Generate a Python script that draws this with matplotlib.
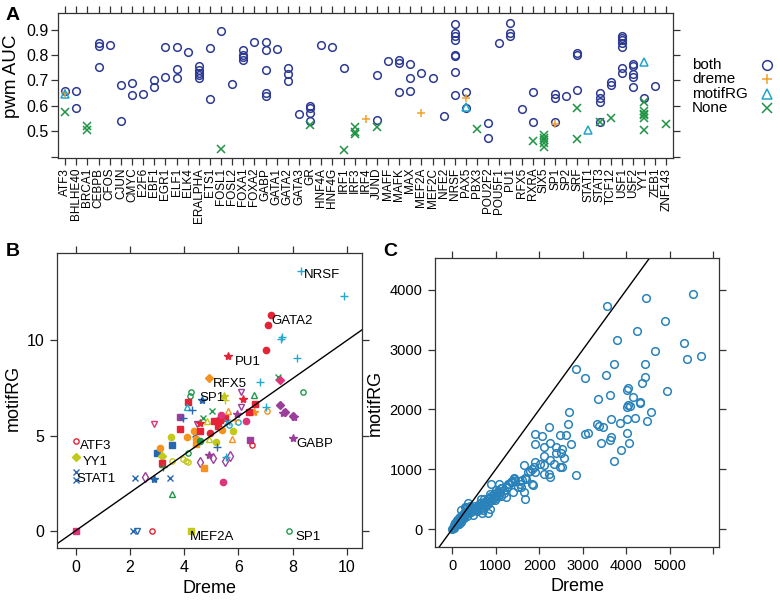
import numpy as np
import matplotlib.pyplot as plt

plt.rcParams['font.family'] = ['Liberation Sans', 'DejaVu Sans']

# ---------------- panel A data ----------------
tfs = ['ATF3', 'BHLHE40', 'BRCA1', 'CEBPB', 'CFOS', 'CJUN', 'CMYC', 'E2F6', 'EBF1', 'EGR1',
       'ELF1', 'ELK4', 'ERALPHA', 'ETS1', 'FOSL1', 'FOSL2', 'FOXA1', 'FOXA2', 'GABP', 'GATA1',
       'GATA2', 'GATA3', 'GR', 'HNF4A', 'HNF4G', 'IRF1', 'IRF3', 'IRF4', 'JUND', 'MAFF',
       'MAFK', 'MAX', 'MEF2A', 'MEF2C', 'NFE2', 'NRSF', 'PAX5', 'PBX3', 'POU2F2', 'POU5F1',
       'PU1', 'RFX5', 'RXRA', 'SIX5', 'SP1', 'SP2', 'SRF', 'STAT1', 'STAT3', 'TCF12',
       'USF1', 'USF2', 'YY1', 'ZEB1', 'ZNF143']

both = {
    'ATF3': [0.657], 'BHLHE40': [0.657, 0.593], 'CEBPB': [0.846, 0.837, 0.752],
    'CFOS': [0.840], 'CJUN': [0.68, 0.54], 'CMYC': [0.69, 0.641], 'E2F6': [0.645],
    'EBF1': [0.70, 0.676], 'EGR1': [0.831, 0.714], 'ELF1': [0.831, 0.744, 0.709],
    'ELK4': [0.811], 'ERALPHA': [0.755, 0.739, 0.729, 0.72, 0.711], 'ETS1': [0.829, 0.628],
    'FOSL1': [0.896], 'FOSL2': [0.687], 'FOXA1': [0.82, 0.80, 0.791, 0.782],
    'FOXA2': [0.852], 'GABP': [0.852, 0.819, 0.739, 0.652, 0.64], 'GATA1': [0.825],
    'GATA2': [0.75, 0.727, 0.699], 'GATA3': [0.567], 'GR': [0.598, 0.59, 0.573, 0.542],
    'HNF4A': [0.838], 'HNF4G': [0.831], 'IRF1': [0.748], 'JUND': [0.721, 0.543],
    'MAFF': [0.777], 'MAFK': [0.782, 0.768, 0.653], 'MAX': [0.764, 0.709, 0.658],
    'MEF2A': [0.73], 'MEF2C': [0.709], 'NFE2': [0.561],
    'NRSF': [0.92, 0.885, 0.875, 0.857, 0.80, 0.795, 0.733, 0.641],
    'PAX5': [0.656, 0.59], 'POU2F2': [0.533, 0.475], 'POU5F1': [0.849],
    'PU1': [0.926, 0.887, 0.876], 'RFX5': [0.589], 'RXRA': [0.653, 0.536],
    'SP1': [0.648, 0.631, 0.535], 'SP2': [0.638], 'SRF': [0.807, 0.798, 0.661],
    'STAT3': [0.65, 0.632, 0.614, 0.538], 'TCF12': [0.693, 0.683],
    'USF1': [0.874, 0.866, 0.858, 0.847, 0.831, 0.748, 0.73],
    'USF2': [0.763, 0.758, 0.724, 0.713, 0.676], 'YY1': [0.632], 'ZEB1': [0.679],
}
dreme = {'ATF3': [0.652], 'IRF4': [0.55], 'MEF2A': [0.573], 'PAX5': [0.632], 'SP1': [0.527]}
motifrg = {'ATF3': [0.648], 'PAX5': [0.595], 'STAT1': [0.504], 'YY1': [0.771]}
none = {
    'ATF3': [0.575], 'BRCA1': [0.52, 0.504], 'FOSL1': [0.432], 'GR': [0.524], 'IRF1': [0.428],
    'IRF3': [0.517, 0.497, 0.491], 'JUND': [0.517], 'PBX3': [0.509], 'RXRA': [0.462],
    'SIX5': [0.487, 0.475, 0.465, 0.455, 0.44], 'SRF': [0.591, 0.471], 'STAT3': [0.538],
    'TCF12': [0.551], 'YY1': [0.614, 0.578, 0.569, 0.563, 0.552, 0.505], 'ZNF143': [0.53],
}

# ---------------- panel B data ----------------
# group id -> colour = g % 8, symbol = g // 8
b_dreme = [8.31, 9.88, 7.20, 7.11, 7.60, 7.58, 7.02, 5.62, 8.18, 4.93, 6.80, 7.45, 7.54, 6.11,
           6.59, 8.38, 0, 0, 0, 0, 0, 2.10, 2.25, 2.83, 4.26, 7.86, 2.19, 2.56, 2.87, 3.49,
           3.55, 2.99, 3.11, 3.20, 3.19, 3.21, 3.55, 3.51, 3.57, 3.85, 3.83, 3.94, 2.89, 3.95,
           4.05, 4.13, 4.13, 4.11, 4.25, 4.20, 4.13, 4.10, 4.28, 4.64, 4.41, 4.38, 4.44, 4.44,
           4.47, 4.59, 4.57, 4.59, 4.57, 4.72, 4.71, 4.83, 4.96, 4.93, 4.90, 5.08, 5.03, 5.47,
           5.51, 5.10, 5.33, 5.52, 5.36, 5.24, 5.38, 5.18, 5.23, 5.57, 5.66, 5.99, 5.62, 5.76,
           5.51, 5.69, 5.55, 5.45, 5.82, 5.88, 6.11, 6.17, 5.96, 6.27, 6.58, 6.41, 6.63, 7.05,
           7.02, 6.44, 6.50, 7.54, 7.66, 7.72, 8.03, 8.05, 8.03]
b_motif = [13.65, 12.33, 11.32, 10.79, 10.20, 10.10, 9.49, 9.21, 9.09, 8.01, 7.80, 8.10, 7.93, 7.27,
           7.13, 7.28, 4.69, 3.85, 3.09, 2.67, 0, 0, -0.03, 0, 0, 0, 2.76, 2.81, 2.71, 2.79,
           1.93, 4.08, 4.36, 3.95, 3.57, 3.34, 3.64, 4.94, 4.48, 5.34, 5.99, 5.94, 5.62, 3.78,
           3.67, 3.62, 4.11, 4.94, 7.29, 7.07, 6.77, 6.50, 6.36, 6.89, 5.08, 5.25, 4.82, 4.57,
           5.62, 5.66, 5.22, 4.69, 3.60, 3.29, 5.92, 5.78, 5.13, 4.82, 4.00, 3.83, 6.29, 7.10,
           6.89, 5.76, 5.82, 5.90, 6.06, 5.48, 5.27, 4.64, 4.39, 5.69, 5.55, 5.73, 6.29, 4.82,
           3.66, 3.94, 3.85, 2.55, 5.22, 5.80, 6.52, 6.94, 6.12, 5.78, 6.24, 6.26, 6.66, 6.29,
           6.50, 4.75, 4.50, 6.63, 6.19, 6.22, 6.01, 6.00, 4.89]
b_group = [12, 12, 72, 72, 12, 12, 72, 48, 12, 33, 12, 27, 39, 46,
           19, 3, 0, 34, 29, 29, 63, 29, 45, 0, 58, 3, 29, 70, 53, 29,
           19, 61, 73, 34, 56, 11, 2, 74, 61, 56, 62, 13, 47, 2,
           2, 2, 3, 73, 3, 3, 56, 20, 13, 53, 29, 73, 73, 57,
           46, 48, 56, 75, 70, 57, 27, 18, 72, 18, 54, 70, 27, 50,
           10, 56, 56, 56, 79, 56, 73, 74, 13, 28, 4, 4, 17, 17,
           70, 70, 12, 79, 74, 9, 46, 48, 54, 79, 49, 56, 56, 1,
           12, 62, 0, 38, 54, 38, 38, 54, 54]
b_labels = ['NRSF', 'GATA2', 'PU1', 'RFX5', 'SP1', 'ATF3', 'YY1', 'STAT1', 'GABP', 'MEF2A', 'SP1']
b_label_pt = [0, 3, 7, 9, 53, 16, 17, 19, 108, 24, 25]

# ---------------- panel C data ----------------
c_dreme = [3545, 4441, 5536, 4893, 4234, 3775, 4655, 5322, 5391, 5720, 3721, 4433, 3530, 2833,
           3040, 4418, 4365, 4005, 4043, 4931, 3614, 3354, 4158, 4303, 4318, 4043, 4081, 4005,
           2688, 4571, 3637, 3851, 4012, 4196, 4464, 2665, 3323, 3361, 3469, 2213, 1891, 2060,
           2473, 2603, 3055, 3116, 4020, 3637, 3629, 4066, 3423, 1891, 2236, 2098, 2381, 2512,
           2726, 3867, 3721, 2496, 2373, 2106, 2251, 2573, 1891, 2014, 2328, 2465, 2519, 2098,
           1654, 1876, 1822, 1784, 1907, 2098, 2220, 2243, 2833, 1838, 1861, 1738, 1677, 1684,
           1554, 1577, 1639, 1662, 1417, 1440, 1340, 1286, 1248, 1126, 1072, 1401, 1233, 995,
           957, 888, 865, 812, 735, 827, 865, 674, 628, 651, 590, 528, 368, 291, 199, 368,
           482, 176, 100, 61, 23, 0,
           30, 50, 60, 80, 100, 120, 140, 160, 180, 200, 220, 240, 260, 280, 300, 150, 90, 70,
           110, 190, 330, 350, 400, 310, 340, 390, 420, 450, 480, 520, 560, 600, 640, 700, 720,
           760, 780, 800, 850, 900, 940, 980, 1020, 1060, 1100, 1150, 1200, 1250, 1300, 1350,
           1380, 1420, 1500, 1550, 1600, 700, 750, 820, 920, 1000, 1050, 1120, 1180, 980, 250,
           430, 560, 640, 680, 160, 40, 210, 270, 330]
c_motif = [3732, 3861, 3928, 3487, 3320, 3169, 2985, 3119, 2840, 2901, 2767, 2762, 2583, 2678,
           2527, 2544, 2438, 2332, 2360, 2310, 2243, 2181, 2204, 2120, 2109, 2075, 2064, 2048,
           1958, 1953, 1836, 1780, 1836, 1852, 1808, 1763, 1752, 1718, 1702, 1707, 1584, 1562,
           1579, 1579, 1584, 1601, 1607, 1534, 1490, 1439, 1434, 1423, 1439, 1372, 1367, 1333,
           1417, 1322, 1133, 1272, 1266, 1222, 1155, 1183, 1121, 1082, 1093, 1043, 1043, 1077,
           1071, 1043, 1004, 971, 954, 915, 926, 876, 898, 759, 742, 948, 854, 837,
           798, 709, 614, 497, 848, 809, 787, 748, 709, 681, 753, 614, 536, 653,
           591, 753, 591, 502, 497, 273, 335, 273, 441, 508, 374, 318, 430, 374, 318, 262,
           234, 206, 151, 95, 22, 0,
           40, 70, 50, 90, 130, 110, 150, 120, 200, 170, 240, 200, 260, 230, 280, 180, 60, 100,
           80, 150, 300, 260, 390, 350, 360, 300, 320, 350, 330, 380, 300, 380, 420, 400, 450,
           430, 400, 470, 520, 560, 520, 560, 600, 640, 620, 690, 650, 710, 760, 790,
           800, 830, 700, 760, 820, 320, 380, 420, 480, 520, 560, 560, 600, 480, 180,
           280, 360, 340, 360, 90, 20, 120, 190, 220]

# ---------------- styles ----------------
col_both, col_dreme, col_motif, col_none = '#2d3a92', '#f5a02a', '#1fa5cb', '#1e9444'
b_cols = ['#e42336', '#f6931f', '#c3c81c', '#1f9a4c', '#1faace', '#2767b0', '#9c3e9c', '#de3479']
b_marks = ['o', '+', '^', 'x', 'D', 'v', '*', 's', 'd', 'o']
b_fill = [False, True, False, True, True, False, True, True, False, True]
c_col = '#2a82ba'
frame = '#333333'

fig = plt.figure(figsize=(7.8, 6.03), dpi=100)
W, H = 780, 603


def box(l, t, r, b):
    return [l / W, 1 - b / H, (r - l) / W, (b - t) / H]


def style_axes(ax, fs):
    for s in ax.spines.values():
        s.set_color(frame)
        s.set_linewidth(0.9)
    ax.tick_params(direction='out', length=5, width=0.9, color=frame, labelsize=fs,
                   top=True, right=True, labeltop=False, labelright=False, pad=2)


# ---------------- panel A ----------------
axA = fig.add_axes(box(58, 13, 673, 158))
pos = {t: i for i, t in enumerate(tfs)}
for data, mk, col, filled in [(both, 'o', col_both, False), (dreme, '+', col_dreme, True),
                              (motifrg, '^', col_motif, False), (none, 'x', col_none, True)]:
    xs = [pos[t] for t in data for v in data[t]]
    ys = [v for t in data for v in data[t]]
    axA.plot(xs, ys, ls='none', marker=mk, ms=6 if mk != 'o' else 5.5, mew=1.1,
             mfc='none' if not filled else col, mec=col)
axA.set_xlim(-0.65, len(tfs) - 0.4)
axA.set_ylim(0.395, 0.965)
axA.set_xticks(range(len(tfs)))
axA.set_xticklabels(tfs, rotation=90, fontsize=8)
axA.set_yticks([0.4, 0.5, 0.6, 0.7, 0.8, 0.9])
axA.set_yticklabels(['', '0.5', '0.6', '0.7', '0.8', '0.9'])
axA.set_ylabel('pwm AUC', fontsize=13.5)
style_axes(axA, 11.5)
axA.tick_params(axis='x', labelsize=8.5)
axA.yaxis.set_label_coords(-0.062, 0.56)

# ---------------- panel B ----------------
axB = fig.add_axes(box(57, 253, 362, 548))
msize = {'o': 3.8, '+': 6, '^': 4.5, 'x': 4.5, 'D': 4, 'v': 4.5, '*': 6, 's': 4.2, 'd': 5}
for x, y, g in zip(b_dreme, b_motif, b_group):
    c = b_cols[g % 8]
    m = b_marks[g // 8]
    filled = b_fill[g // 8]
    ms = 4.5 if g // 8 == 9 else msize[m]
    axB.plot(x, y, ls='none', marker=m, ms=ms, mew=1.0, mec=c,
             mfc=c if filled else 'none')
axB.plot([-1, 11], [-1, 11], color='black', lw=1)
offsets = [(3, -4), (3, 4), (7, -6), (4, -6), (-2, 2), (4, -5), (7, -5), (1, 1), (3, -6),
           (-1, -6), (7, -6)]
for name, i, off in zip(b_labels, b_label_pt, offsets):
    axB.annotate(name, (b_dreme[i], b_motif[i]), xytext=off, textcoords='offset pixels',
                 ha='left', va='center', fontsize=9.5)
axB.set_xlim(-0.69, 10.56)
axB.set_ylim(-0.91, 14.6)
axB.set_xticks([0, 2, 4, 6, 8, 10])
axB.set_yticks([0, 5, 10])
axB.set_xlabel('Dreme', fontsize=13, labelpad=3)
axB.set_ylabel('motifRG', fontsize=13)
style_axes(axB, 11.5)
axB.tick_params(pad=4)
axB.yaxis.set_label_coords(-0.115, 0.51)

# ---------------- panel C ----------------
axC = fig.add_axes(box(435, 258, 719, 547))
axC.plot(c_dreme, c_motif, ls='none', marker='o', ms=5.5, mew=1.1, mfc='none', mec=c_col)
axC.plot([-1000, 7000], [-1000, 7000], color='black', lw=1)
axC.set_xlim(-397, 6130)
axC.set_ylim(-301, 4535)
axC.set_xticks([0, 1000, 2000, 3000, 4000, 5000, 6000])
axC.set_xticklabels(['0', '1000', '2000', '3000', '4000', '5000', ''])
axC.set_yticks([0, 1000, 2000, 3000, 4000])
axC.set_xlabel('Dreme', fontsize=13, labelpad=3)
axC.set_ylabel('motifRG', fontsize=13, labelpad=4)
style_axes(axC, 10.5)
axC.tick_params(pad=4)

# ---------------- overlay: legend and panel letters ----------------
ov = fig.add_axes([0, 0, 1, 1])
ov.set_xlim(0, W)
ov.set_ylim(H, 0)
ov.axis('off')
leg = [('both', 'o', col_both, False), ('dreme', '+', col_dreme, True),
       ('motifRG', '^', col_motif, False), ('None', 'x', col_none, True)]
for k, (lab, mk, col, filled) in enumerate(leg):
    yy = 65 + k * 14.4
    ov.text(692, yy, lab, fontsize=11, va='center', ha='left')
    ov.plot(767, yy, ls='none', marker=mk, ms=7, mew=1.1, mec=col,
            mfc=col if filled else 'none')
for lab, x, y in [('A', 13, 16), ('B', 13, 252), ('C', 390, 252)]:
    ov.text(x, y, lab, fontsize=14, fontweight='bold', ha='center', va='center')

fig.savefig('out.png', dpi=100)
